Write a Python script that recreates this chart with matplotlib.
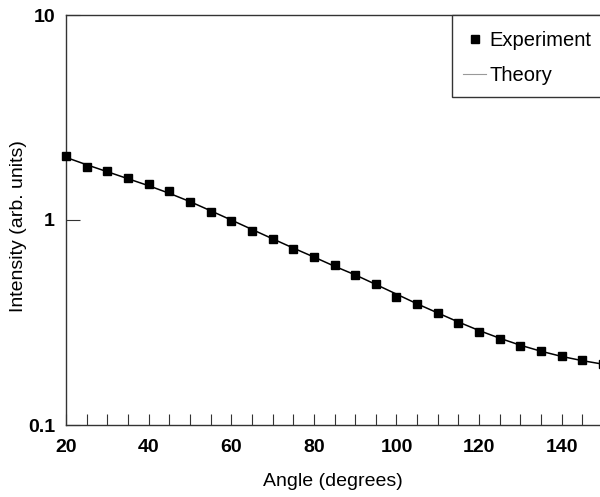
import matplotlib
matplotlib.use("Agg")
import matplotlib.pyplot as plt
from matplotlib.patches import Rectangle
from matplotlib.ticker import FixedLocator, NullLocator, FixedFormatter

plt.rcParams['font.family'] = ['Liberation Sans', 'DejaVu Sans']

angles = [20, 25, 30, 35, 40, 45, 50, 55, 60, 65, 70, 75, 80, 85, 90, 95,
          100, 105, 110, 115, 120, 125, 130, 135, 140, 145, 150]
experiment = [2.05, 1.81, 1.73, 1.60, 1.50, 1.385, 1.224, 1.094, 0.989, 0.884,
              0.808, 0.722, 0.660, 0.603, 0.539, 0.487, 0.421, 0.389, 0.352,
              0.315, 0.284, 0.263, 0.243, 0.230, 0.217, 0.207, 0.198]
theory = [2.02, 1.86, 1.72, 1.59, 1.47, 1.35, 1.23, 1.11, 1.00, 0.90, 0.81,
          0.73, 0.66, 0.595, 0.54, 0.485, 0.435, 0.39, 0.352, 0.318, 0.289,
          0.265, 0.245, 0.229, 0.216, 0.206, 0.198]
x_ticks = [20, 40, 60, 80, 100, 120, 140]
x_minor = [25, 30, 35, 45, 50, 55, 65, 70, 75, 85, 90, 95, 105, 110, 115, 125, 130, 135, 145]
y_ticks = [0.1, 1, 10]
y_labels = ['0.1', '1', '10']

W, H = 600, 497
fig = plt.figure(figsize=(6.0, 4.97), dpi=100)
ax = fig.add_axes([66/W, 1 - 425/H, (603 - 66)/W, (425 - 15)/H])

ax.plot(angles, theory, color='black', lw=1.1, label='Theory', zorder=2)
ax.plot(angles, experiment, linestyle='none', marker='s', ms=5.5,
        color='black', label='Experiment', zorder=3, clip_on=False)

ax.set_yscale('log')
ax.set_xlim(20, 150)
ax.set_ylim(0.1, 10)

ax.xaxis.set_major_locator(FixedLocator(x_ticks))
ax.xaxis.set_minor_locator(FixedLocator(x_minor))
ax.yaxis.set_major_locator(FixedLocator(y_ticks))
ax.yaxis.set_major_formatter(FixedFormatter(y_labels))
ax.yaxis.set_minor_locator(NullLocator())

ax.tick_params(axis='x', which='both', direction='in', length=8, width=0.8,
               color='#333333', pad=10, labelsize=14)
ax.tick_params(axis='y', which='major', direction='in', length=10, width=0.8,
               color='#333333', pad=8, labelsize=14)
for lab in ax.get_xticklabels() + ax.get_yticklabels():
    lab.set_fontweight('bold')

for side in ['left', 'bottom', 'top', 'right']:
    ax.spines[side].set_color('#333333')
    ax.spines[side].set_linewidth(1.0)

ax.set_xlabel('Angle (degrees)', fontsize=14)
ax.set_ylabel('Intensity (arb. units)', fontsize=14)
ax.xaxis.set_label_coords((333 - 66) / 537, -(481 - 425) / 410, transform=ax.transAxes)
ax.yaxis.set_label_coords(-(66 - 19) / 537, (425 - 226) / 410, transform=ax.transAxes)
ax.xaxis.label.set_va('center')
ax.yaxis.label.set_va('center')

# legend frame (cut off by the right edge as in the reference)
frame = Rectangle((452/W, 1 - 97/H), 0.3, 82/H, transform=fig.transFigure,
                  facecolor='white', edgecolor='#333333', lw=1.0,
                  clip_on=False, zorder=4)
ax.add_artist(frame)

handles, labels = ax.get_legend_handles_labels()
leg = ax.legend(handles[::-1], labels[::-1], loc='upper left',
                bbox_to_anchor=(463/W, 1 - 31/H), bbox_transform=fig.transFigure,
                frameon=False, prop={'size': 14.5}, handlelength=1.15,
                handletextpad=0.15, borderpad=0, labelspacing=0.8,
                borderaxespad=0)
leg.set_zorder(5)
leg.legend_handles[1].set_color('#999999')
leg.legend_handles[1].set_linewidth(0.8)
leg.legend_handles[0].set_markersize(5.5)

fig.savefig('out.png', dpi=100)
